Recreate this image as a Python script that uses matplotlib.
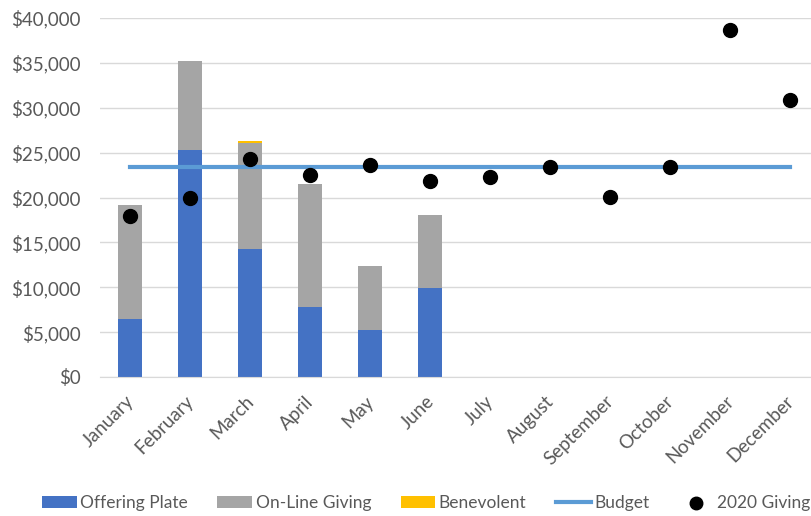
import matplotlib
matplotlib.use('Agg')
import matplotlib.pyplot as plt
import numpy as np

plt.rcParams['font.family'] = ['Lato', 'DejaVu Sans']

months = ['January', 'February', 'March', 'April', 'May', 'June', 'July',
          'August', 'September', 'October', 'November', 'December']
offering = [6500, 25300, 14300, 7800, 5200, 9900, 0, 0, 0, 0, 0, 0]
online = [12700, 9900, 11800, 13700, 7200, 8100, 0, 0, 0, 0, 0, 0]
benevolent = [0, 0, 200, 0, 0, 0, 0, 0, 0, 0, 0, 0]
budget = [23400] * 12
giving_2020 = [17900, 20000, 24300, 22500, 23600, 21800, 22300, 23400,
               20100, 23400, 38700, 30900]

fig = plt.figure(figsize=(8.12, 5.16), dpi=100)
ax = fig.add_axes([100 / 812, 139 / 516, 720 / 812, 359 / 516])

x = np.arange(len(months))
w = 0.4
b1 = ax.bar(x, offering, w, color='#4472C4', label='Offering Plate', zorder=2)
b2 = ax.bar(x, online, w, bottom=offering, color='#A5A5A5', label='On-Line Giving', zorder=2)
bottom3 = np.array(offering) + np.array(online)
b3 = ax.bar(x, benevolent, w, bottom=bottom3, color='#FFC000', label='Benevolent', zorder=2)
ln, = ax.plot(x, budget, color='#5B9BD5', lw=3, label='Budget', zorder=3)
sc = ax.scatter(x, giving_2020, s=100, color='black', label='2020 Giving', zorder=4)

ax.set_xlim(-0.5, 11.5)
ax.set_ylim(0, 40000)
ax.set_yticks(np.arange(0, 40001, 5000))
ax.set_yticklabels(['${:,}'.format(v) for v in range(0, 40001, 5000)])
ax.set_xticks(x)
ax.set_xticklabels(months, rotation=45, ha='right', va='center_baseline', rotation_mode='anchor')
ax.tick_params(axis='both', length=0, colors='#595959', labelsize=13.5)
ax.tick_params(axis='y', pad=14)
ax.tick_params(axis='x', pad=15)
ax.grid(axis='y', color='#D9D9D9', lw=1, zorder=0)
for s in ['top', 'right', 'left']:
    ax.spines[s].set_visible(False)
ax.spines['bottom'].set_color('#D9D9D9')

leg = fig.legend(handles=[b1, b2, b3, ln, sc], loc='center', bbox_to_anchor=(426 / 812, 13 / 516),
                 ncol=5, frameon=False, fontsize=12.5, handlelength=2.0, handletextpad=0.2,
                 columnspacing=1.7, markerscale=0.9)
for t in leg.get_texts():
    t.set_color('#595959')

fig.savefig('out.png', dpi=100)
